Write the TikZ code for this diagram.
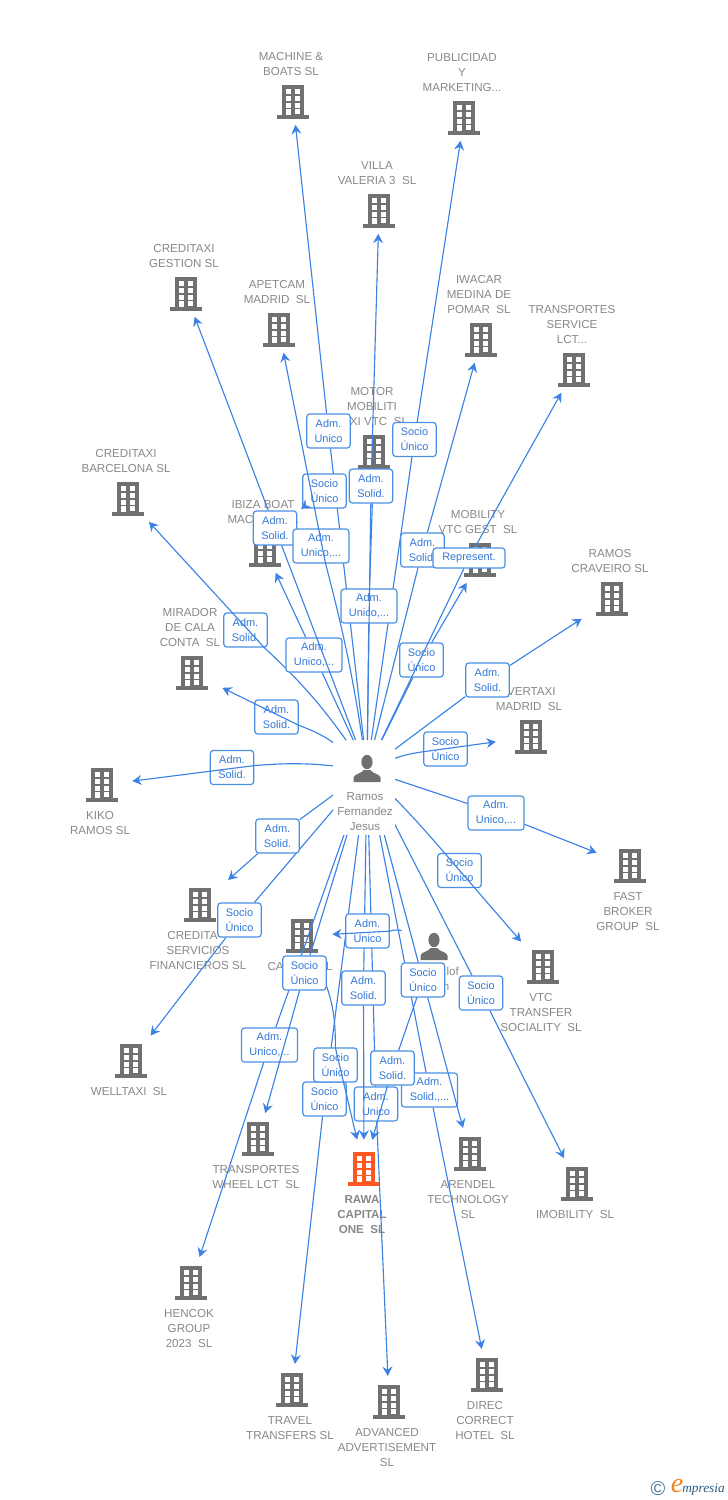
\documentclass[tikz,border=0pt]{standalone}
\usepackage{fontspec}
\setmainfont{Liberation Sans}
\newfontfamily\logofont{Liberation Serif}
\usetikzlibrary{arrows.meta,positioning}
\definecolor{edgeblue}{RGB}{60,130,228}
\definecolor{tagblue}{RGB}{74,144,226}
\definecolor{tagtext}{RGB}{50,120,215}
\definecolor{capgray}{RGB}{136,136,136}
\definecolor{icongray}{RGB}{112,112,112}
\definecolor{rawaorange}{RGB}{255,87,34}
\definecolor{logoblue}{RGB}{70,120,150}
\definecolor{logonavy}{RGB}{40,90,130}
\definecolor{logoorange}{RGB}{240,130,30}
\tikzset{
  bldg/.style={rectangle, minimum width=45pt, minimum height=33.75pt, inner sep=0pt,
    path picture={\begin{scope}[shift={(path picture bounding box.center)}]
      \fill[#1] (-11,-17) rectangle (11,13);
      \fill[#1] (-16,13) rectangle (16,16.5);
      \foreach \wy in {-13,-6,1} {
        \fill[white] (-7.3,\wy) rectangle ++(4.8,4.8);
        \fill[white] (2.2,\wy) rectangle ++(4.8,4.8);
      }
      \fill[white] (-7.3,7) rectangle (-2.5,13);
      \fill[white] (2.2,7) rectangle (7,12);
    \end{scope}}},
  bldg/.default=icongray,
  person/.style={rectangle, minimum width=#1, minimum height=27pt, inner sep=0pt,
    path picture={\begin{scope}[shift={(path picture bounding box.center)}]
      \fill[icongray] (0,-8) ellipse (5.6 and 7.2);
      \fill[icongray] (-13.5,12) -- (-13.5,7.5) .. controls (-13,4) and (-5,3.5) .. (-3.5,0)
        -- (3.5,0) .. controls (5,3.5) and (13,4) .. (13.5,7.5) -- (13.5,12) -- cycle;
    \end{scope}}}
}
\tikzstyle{caption} = [inner sep=0pt, align=center, text=capgray, font=\fontsize{8.7}{11.25}\selectfont, xshift=-1.5pt]
\tikzstyle{captop} = [caption, above=2.25pt of #1]
\tikzstyle{capbot} = [caption, below=2.6pt of #1]
\tikzstyle{tag} = [rectangle, rounded corners=2.2pt, draw=tagblue, line width=0.9pt, fill=white, text=tagtext,
  minimum width=32.5pt, minimum height=25.5pt, inner sep=0pt, align=center, font=\fontsize{8.2}{11.25}\selectfont]
\tikzstyle{tagwide} = [tag, minimum width=42pt]
\tikzstyle{arrow} = [line width=0.85pt, color=edgeblue, ->, >={Stealth[length=7pt,width=7.5pt,inset=2.4pt]}]
\tikzstyle{arrowlow} = [arrow, shorten >=2.5pt]
\begin{document}
\begin{tikzpicture}[x=0.75pt, y=-0.75pt]
\useasboundingbox (0,0) rectangle (728,1500);
% buildings and people
\node (machine) [bldg] at (293,102) {};
\node (publicidad) [bldg] at (464,118) {};
\node (villa) [bldg] at (379,211) {};
\node (gestion) [bldg] at (186,294) {};
\node (apetcam) [bldg] at (279,330) {};
\node (iwacar) [bldg] at (481,340) {};
\node (service) [bldg] at (574,370) {};
\node (motor) [bldg] at (374,452) {};
\node (barcelona) [bldg] at (128,499) {};
\node (ibiza) [bldg] at (265,550) {};
\node (mobility) [bldg] at (480,560) {};
\node (craveiro) [bldg] at (612,599) {};
\node (mirador) [bldg] at (192,673) {};
\node (vertaxi) [bldg] at (531,737) {};
\node (kiko) [bldg] at (102,785) {};
\node (fast) [bldg] at (630,866) {};
\node (servicios) [bldg] at (200,905) {};
\node (ca) [bldg] at (302,936) {};
\node (transfer) [bldg] at (543,967) {};
\node (welltaxi) [bldg] at (131,1061) {};
\node (wheel) [bldg] at (258,1139) {};
\node (arendel) [bldg] at (470,1154) {};
\node (imobility) [bldg] at (577,1184) {};
\node (rawa) [bldg=rawaorange] at (364,1169) {};
\node (hencok) [bldg] at (191,1283) {};
\node (travel) [bldg] at (292,1390) {};
\node (advanced) [bldg] at (389,1402) {};
\node (direc) [bldg] at (487,1375) {};
\node (hub) [person=24pt] at (367,770) {};
\node (second) [person=48pt] at (434,948) {};
% captions
\node (machinecap) [captop=machine] {MACHINE \&\\BOATS SL};
\node (publicidadcap) [captop=publicidad] {PUBLICIDAD\\Y\\MARKETING...};
\node (villacap) [captop=villa] {VILLA\\VALERIA 3~~SL};
\node (gestioncap) [captop=gestion] {CREDITAXI\\GESTION SL};
\node (apetcamcap) [captop=apetcam] {APETCAM\\MADRID~~SL};
\node (iwacarcap) [captop=iwacar] {IWACAR\\MEDINA DE\\POMAR~~SL};
\node (servicecap) [captop=service] {TRANSPORTES\\SERVICE\\LCT...};
\node (motorcap) [captop=motor] {MOTOR\\MOBILITI\\\phantom{TA}XI VTC~~SL};
\node (barcelonacap) [captop=barcelona] {CREDITAXI\\BARCELONA SL};
\node (ibizacap) [captop=ibiza] {IBIZA BOAT\\MAC\phantom{HINE S}L};
\node (mobilitycap) [captop=mobility] {MOBILITY\\VTC GEST~~SL};
\node (craveirocap) [captop=craveiro] {RAMOS\\CRAVEIRO SL};
\node (miradorcap) [captop=mirador] {MIRADOR\\DE CALA\\CONTA~~SL};
\node (vertaxicap) [captop=vertaxi] {\hspace*{3.5pt}VERTAXI\\MADRID~~SL};
\node (kikocap) [capbot=kiko] {KIKO\\RAMOS SL};
\node (fastcap) [capbot=fast] {FAST\\BROKER\\GROUP~~SL};
\node (servicioscap) [capbot=servicios] {CREDITA\phantom{XI}\\SERVICIOS\\FINANCIEROS SL};
\node (cacap) [capbot=ca] {CA\phantom{PITAL S}L};
\node (transfercap) [capbot=transfer] {VTC\\TRANSFER\\SOCIALITY~~SL};
\node (welltaxicap) [capbot=welltaxi] {WELLTAXI~~SL};
\node (wheelcap) [capbot=wheel] {TRANSPORTES\\WHEEL LCT~~SL};
\node (arendelcap) [capbot=arendel] {ARENDEL\\TECHNOLOGY\\SL};
\node (imobilitycap) [capbot=imobility] {IMOBILITY~~SL};
\node (rawacap) [caption, below=2.5pt of rawa, font=\fontsize{8.7}{11.25}\selectfont\bfseries] {RAWA\\CAPITAL\\ONE~~SL};
\node (hencokcap) [capbot=hencok] {HENCOK\\GROUP\\2023~~SL};
\node (travelcap) [capbot=travel] {TRAVEL\\TRANSFERS SL};
\node (advancedcap) [capbot=advanced] {ADVANCED\\ADVERTISEMENT\\SL};
\node (direccap) [capbot=direc] {DIREC\\CORRECT\\HOTEL~~SL};
\node (hubcap) [caption, below=3pt of hub] {Ramos\\Fernandez\\Jesus};
\node (secondcap) [caption, xshift=1.5pt] at (436,979) {\phantom{Rudolf}lof\\\phantom{Mar}n};
% connectors with their tags, bottom ones first
\begin{scope}[even odd rule]
\clip (0,0) rectangle (728,1500) (333,740) rectangle (395,835);
\node (tadvanced) [tag] at (376,1104) {Adm.\\Unico};
\draw [arrowlow] (hub) -- (tadvanced) -- (advanced);
\node (ttravel) [tag] at (324.5,1099) {Socio\\Único};
\draw [arrowlow] (hub) -- (ttravel) -- (travel);
\node (tdirec) [tagwide] at (429.5,1090) {Adm.\\Solid.,...};
\draw [arrowlow] (hub) -- (tdirec) -- (direc);
\node (tcarawa) [tag] at (335.5,1065) {Socio\\Único};
\draw [arrow, shorten >=5pt] (ca) to[bend left=14] (tcarawa) -- (rawa);
\node (thubrawa) [tag] at (363.5,988) {Adm.\\Solid.};
\draw [arrow, shorten >=5pt] (hub) -- (thubrawa) -- (rawa);
\node (tsecondrawa) [tag] at (392.5,1068) {Adm.\\Solid.};
\draw [arrow, shorten >=5pt] (second) -- (tsecondrawa) -- (rawa);
\node (tarendel) [tag] at (423,980) {Socio\\Único};
\draw [arrowlow] (hub) -- (tarendel) -- (arendel);
\node (timobility) [tag] at (481,993) {Socio\\Único};
\draw [arrowlow] (hub) -- (timobility) -- (imobility);
\node (thencok) [tagwide] at (269.5,1045) {Adm.\\Unico,...};
\draw [arrowlow] (hub) -- (thencok) -- (hencok);
\node (twheel) [tag] at (304.5,973) {Socio\\Único};
\draw [arrowlow] (hub) -- (twheel) -- (wheel);
\node (twelltaxi) [tag] at (239.5,920) {Socio\\Único};
\draw [arrowlow] (hub) -- (twelltaxi) -- (welltaxi);
\node (tservicios) [tag] at (277.5,836) {Adm.\\Solid.};
\draw [arrowlow] (hub) -- (tservicios) -- (servicios);
\node (tsecondca) [tag] at (367.5,931) {Adm.\\Unico};
\draw [arrow] (second) to[bend right=14] (tsecondca) -- (ca);
\node (ttransfer) [tag] at (459.5,870.5) {Socio\\Único};
\draw [arrowlow] (hub) to[bend left=2] (ttransfer) -- (transfer);
\node (tfast) [tagwide] at (496,813) {Adm.\\Unico,...};
\draw [arrowlow] (hub) -- (tfast) -- (fast);
\node (tvertaxi) [tag] at (445.5,749) {Socio\\Único};
\draw [arrow, shorten >=3.75pt] (hub) to[bend left=8] (tvertaxi) -- (vertaxi);
\node (tcraveiro) [tag] at (487.5,680) {Adm.\\Solid.};
\draw [arrow] (hub) -- (tcraveiro) -- (craveiro);
\node (tkiko) [tag] at (232,767.5) {Adm.\\Solid.};
\draw [arrow] (hub) to[bend right=6] (tkiko) -- (kiko);
\node (tmirador) [tag] at (276.5,717) {Adm.\\Solid.};
\draw [arrow] (hub) to[bend right=10] (tmirador) -- (mirador);
\node (tbarcelona) [tag] at (245.5,630) {Adm.\\Solid.};
\draw [arrow] (hub) to[bend right=6] (tbarcelona) -- (barcelona);
\node (tibiza) [tagwide] at (314,655) {Adm.\\Unico,...};
\draw [arrow] (hub) -- (tibiza) -- (ibiza);
\node (tmachine) [tag] at (328.5,431) {Adm.\\Unico};
\draw [arrow] (hub) -- (tmachine) -- (machine);
\coordinate (ibizatip) at (301,509);
\node (tstub) [tag] at (324.5,491) {Socio\\Único};
\draw [arrow] (tstub) -- (ibizatip);
\node (tgestion) [tag] at (275,528) {Adm.\\Solid.};
\draw [arrow] (hub) -- (tgestion) -- (gestion);
\node (tapetcam) [tagwide] at (321,546) {Adm.\\Unico,...};
\draw [arrow] (hub) to[bend right=3] (tapetcam) -- (apetcam);
\node (tpublicidad) [tag] at (414.5,439.5) {Socio\\Único};
\draw [arrow] (hub) -- (tpublicidad) -- (publicidad);
\node (tmotor) [tagwide] at (369,606) {Adm.\\Unico,...};
\draw [arrow] (hub) -- (tmotor) -- (motor);
\node (tvilla) [tag] at (371,486) {Adm.\\Solid.};
\draw [arrow] (hub) -- (tvilla) -- (villa);
\node (tiwacar) [tag] at (422.5,550) {Adm.\\Solid.};
\draw [arrow] (hub) -- (tiwacar) -- (iwacar);
\node (tmobility) [tag] at (421.5,660) {Socio\\Único};
\draw [arrow] (hub) -- (tmobility) -- (mobility);
\node (tservice) [tag, minimum width=54pt, minimum height=15pt] at (469,558) {Represent.};
\draw [arrow] (hub) -- (tservice) -- (service);
\end{scope}
% logo
\node (logoc) [text=logoblue, font=\fontsize{15}{15}\selectfont, inner sep=0pt] at (658,1489) {©};
\node (logoe) [text=logoorange, font=\logofont\itshape\fontsize{21}{21}\selectfont, inner sep=0pt] at (677,1486) {e};
\node (logom) [text=logonavy, font=\logofont\itshape\fontsize{10}{11}\selectfont, inner sep=0pt, anchor=west] at (682,1489) {mpresia};
\end{tikzpicture}
\end{document}
